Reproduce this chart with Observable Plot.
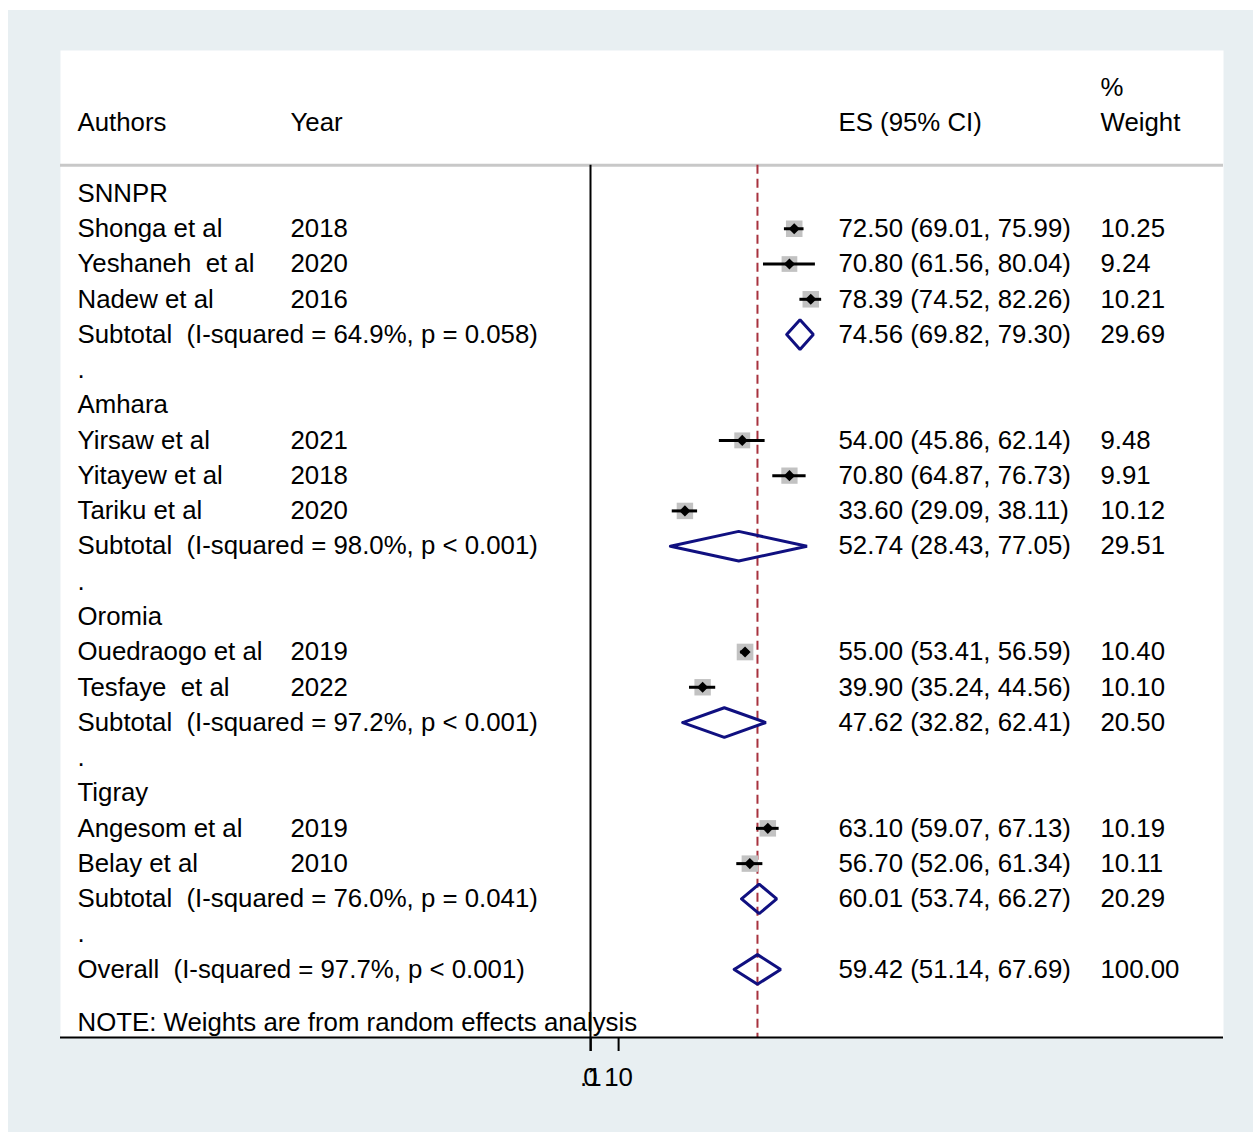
<!DOCTYPE html>
<html>
<head>
<meta charset="utf-8">
<script src="https://cdn.jsdelivr.net/npm/d3@7"></script>
<script src="https://cdn.jsdelivr.net/npm/@observablehq/plot@0.6"></script>
<style>
  html, body { margin: 0; padding: 0; background: #ffffff; }
  #bg { position: absolute; left: 8px; top: 10px; width: 1245px; height: 1122px; background: #e8eff2; }
  #chart { position: absolute; left: 0; top: 0; }
  #chart svg text { white-space: pre; }
</style>
</head>
<body>
<div id="bg"></div>
<div id="chart"></div>
<script>
// ---- data ----
const groups = ["SNNPR", "Amhara", "Oromia", "Tigray"];
const authors = ["Shonga et al", "Yeshaneh  et al", "Nadew et al",
                 "Yirsaw et al", "Yitayew et al", "Tariku et al",
                 "Ouedraogo et al", "Tesfaye  et al",
                 "Angesom et al", "Belay et al"];
const years = ["2018", "2020", "2016", "2021", "2018", "2020", "2019", "2022", "2019", "2010"];
const studyGroup = [0, 0, 0, 1, 1, 1, 2, 2, 3, 3];
const es = [72.50, 70.80, 78.39, 54.00, 70.80, 33.60, 55.00, 39.90, 63.10, 56.70];
const lo = [69.01, 61.56, 74.52, 45.86, 64.87, 29.09, 53.41, 35.24, 59.07, 52.06];
const hi = [75.99, 80.04, 82.26, 62.14, 76.73, 38.11, 56.59, 44.56, 67.13, 61.34];
const weights = [10.25, 9.24, 10.21, 9.48, 9.91, 10.12, 10.40, 10.10, 10.19, 10.11];

const subEs = [74.56, 52.74, 47.62, 60.01];
const subLo = [69.82, 28.43, 32.82, 53.74];
const subHi = [79.30, 77.05, 62.41, 66.27];
const subW = [29.69, 29.51, 20.50, 20.29];
const subI2 = ["64.9", "98.0", "97.2", "76.0"];
const subP = ["= 0.058", "< 0.001", "< 0.001", "= 0.041"];

const overall = {es: 59.42, lo: 51.14, hi: 67.69, w: 100.00, i2: "97.7", p: "< 0.001"};

const xTicks = [0, 0.1, 10];
const xTickLabels = ["0", ".1", "10"];

// ---- build rows ----
const studies = [], subs = [], labels = [];
let r = 0;
groups.forEach((g, gi) => {
  labels.push({row: r, text: g}); r++;
  authors.forEach((a, i) => {
    if (studyGroup[i] !== gi) return;
    studies.push({row: r, author: a, year: years[i], es: es[i], lo: lo[i], hi: hi[i], w: weights[i]});
    r++;
  });
  subs.push({row: r, label: `Subtotal  (I-squared = ${subI2[gi]}%, p ${subP[gi]})`,
             es: subEs[gi], lo: subLo[gi], hi: subHi[gi], w: subW[gi]});
  r++;
  labels.push({row: r, text: "."}); r++;
});
subs.push({row: r, label: `Overall  (I-squared = ${overall.i2}%, p ${overall.p})`,
           es: overall.es, lo: overall.lo, hi: overall.hi, w: overall.w});
const noteRow = r + 1.5;

const fmt = d => d.toFixed(2);
const ciText = d => `${fmt(d.es)} (${fmt(d.lo)}, ${fmt(d.hi)})`;

// diamond polygons
const dh = 0.42;
const diamonds = [];
subs.forEach((s, i) => {
  diamonds.push({id: i, x: s.lo, y: s.row});
  diamonds.push({id: i, x: s.es, y: s.row - dh});
  diamonds.push({id: i, x: s.hi, y: s.row});
  diamonds.push({id: i, x: s.es, y: s.row + dh});
  diamonds.push({id: i, x: s.lo, y: s.row});
});

const topRow = -4.054, bottomRow = 23.93, headerRule = -0.8;
const font = "Liberation Sans, Arial, Helvetica, sans-serif";
const fs = 25.8;
const txt = (data, opts) => Plot.text(data, {frameAnchor: "left", textAnchor: "start", fontSize: fs, fill: "black", ...opts});

const allRows = [...labels.map(d => ({row: d.row, c1: d.text})),
                 ...studies.map(d => ({row: d.row, c1: d.author, c2: d.year, c3: ciText(d), c4: fmt(d.w)})),
                 ...subs.map(d => ({row: d.row, c1: d.label, c3: ciText(d), c4: fmt(d.w)}))];

const header = [
  {row: -2, c1: "Authors", c2: "Year", c3: "ES (95% CI)", c4: "Weight"},
  {row: -3, c4: "%"},
  {row: noteRow, c1: "NOTE: Weights are from random effects analysis"}
];

const chart = Plot.plot({
  width: 1253,
  height: 1132,
  marginLeft: 60,
  marginRight: 30,
  marginTop: 50,
  marginBottom: 95,
  style: {fontFamily: font, fontSize: fs + "px", background: "none", color: "black"},
  x: {domain: [-530 / 2.81, 633 / 2.81], axis: null},
  y: {domain: [bottomRow, topRow], axis: null},
  marks: [
    Plot.frame({fill: "white", stroke: "none"}),
    Plot.ruleY([headerRule], {stroke: "#c8c8c8", strokeWidth: 3}),
    Plot.ruleX([0], {y1: headerRule, y2: bottomRow, stroke: "black", strokeWidth: 2}),
    Plot.ruleX([overall.es], {y1: headerRule, y2: bottomRow, stroke: "#a8323e", strokeWidth: 2, strokeDasharray: "9,5"}),
    Plot.dot(studies, {x: "es", y: "row", r: "w", symbol: "square", fill: "#c2c2c2", stroke: "none"}),
    Plot.ruleY(studies, {y: "row", x1: "lo", x2: "hi", stroke: "black", strokeWidth: 3}),
    Plot.dot(studies, {x: "es", y: "row", symbol: "diamond2", r: 5, fill: "black", stroke: "none"}),
    Plot.line(diamonds, {x: "x", y: "y", z: "id", stroke: "#101080", strokeWidth: 3, strokeLinejoin: "miter", curve: "linear"}),
    Plot.ruleY([bottomRow], {stroke: "black", strokeWidth: 2}),
    Plot.axisX({ticks: xTicks, tickFormat: d => xTickLabels[xTicks.indexOf(d)], tickSize: 14, tickPadding: 16,
                strokeWidth: 2, fontSize: fs, anchor: "bottom"}),
    txt([...allRows, ...header].filter(d => d.c1), {y: "row", text: "c1", dx: 17}),
    txt([...allRows, ...header].filter(d => d.c2), {y: "row", text: "c2", dx: 230}),
    txt([...allRows, ...header].filter(d => d.c3), {y: "row", text: "c3", dx: 778}),
    txt([...allRows, ...header].filter(d => d.c4), {y: "row", text: "c4", dx: 1040})
  ],
  r: {type: "sqrt", domain: [0, 10.4], range: [0, 9.4]}
});
document.getElementById("chart").appendChild(chart);
</script>
</body>
</html>
